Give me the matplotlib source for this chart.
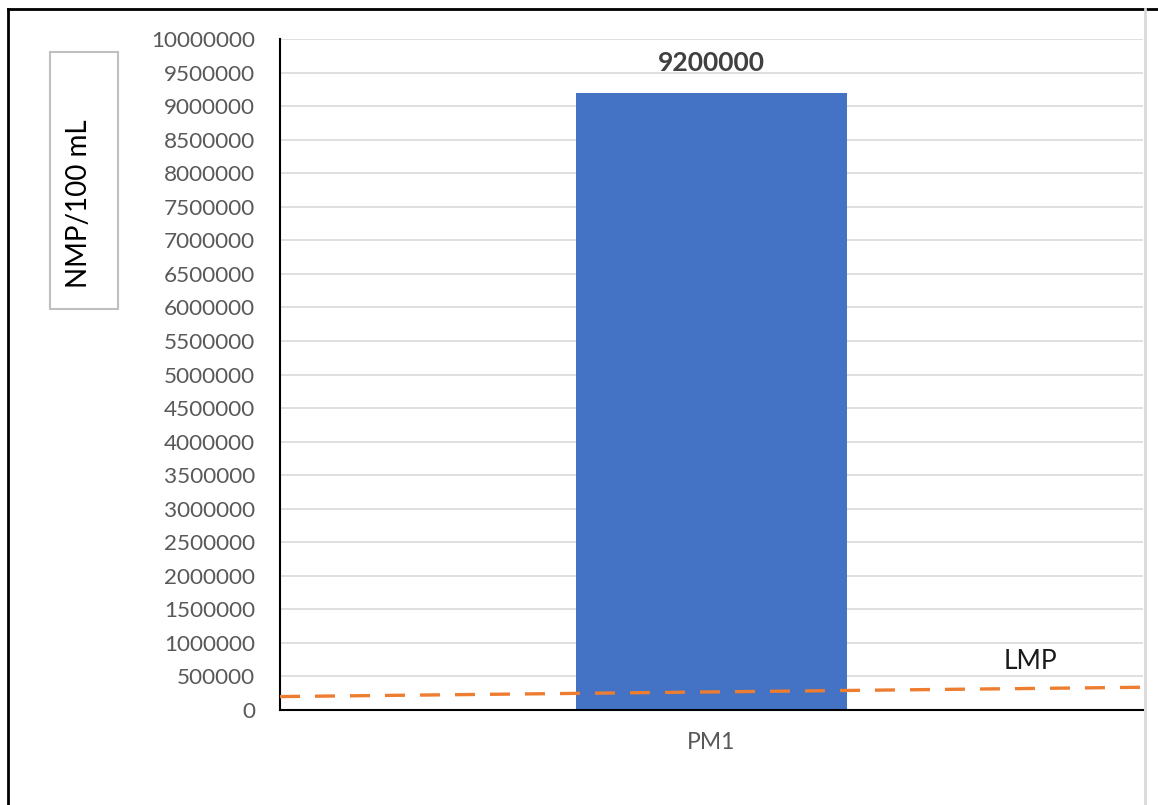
import matplotlib
matplotlib.use("Agg")
import matplotlib.pyplot as plt
from matplotlib.patches import Rectangle
from matplotlib.lines import Line2D
import numpy as np

plt.rcParams['font.family'] = ['Lato', 'DejaVu Sans']

categories = ["PM1"]
values = [9200000]
lmp_x = [-0.5, 0.508]
lmp_y = [200000, 340000]
y_ticks = list(range(0, 10000001, 500000))

fig = plt.figure(figsize=(11.58, 8.05), dpi=100)
ax = fig.add_axes([280 / 1158, 1 - 710 / 805, (1143 - 280) / 1158, (710 - 39) / 805])

x = np.arange(len(categories))
bars = ax.bar(x, values, width=0.315, color="#4472C4", zorder=2)
for xi, v in zip(x, values):
    ax.text(xi, v + 440000, f"{v}", ha="center", va="center", fontsize=19,
            fontweight="bold", color="#404040")

ax.plot(lmp_x, lmp_y, color="#ED7D31", lw=2.4, dashes=(6, 4.5),
        clip_on=False, zorder=3)
ax.text(0.369, 730000, "LMP", fontsize=19, color="#1a1a1a", ha="center", va="center")

ax.set_xlim(-0.5, 0.5)
ax.set_ylim(0, 10000000)
ax.set_yticks(y_ticks)
ax.set_yticklabels([str(t) for t in y_ticks], fontsize=16.2, color="#595959")
ax.set_xticks(x)
ax.set_xticklabels(categories, fontsize=16.5, color="#595959")
ax.tick_params(axis="both", length=0)
ax.tick_params(axis="y", pad=18)
ax.tick_params(axis="x", pad=16)
ax.grid(axis="y", color="#d9d9d9", lw=1.2, zorder=0)
ax.set_axisbelow(True)
for s in ["top", "right"]:
    ax.spines[s].set_visible(False)
ax.spines["left"].set_color("black")
ax.spines["bottom"].set_color("black")
ax.spines["left"].set_linewidth(1.5)
ax.spines["bottom"].set_linewidth(1.5)

# y-axis title in a framed box
fig.patches.append(Rectangle((50 / 1158, 1 - 309 / 805), 68 / 1158, 257 / 805,
                             transform=fig.transFigure, fill=False,
                             edgecolor="#bfbfbf", lw=1.5))
fig.text(79 / 1158, 1 - 204 / 805, "NMP/100 mL", rotation=90, fontsize=20,
         ha="center", va="center", color="black")

# outer frame lines
fig.lines.append(Line2D([8 / 1158, 1], [1 - 9 / 805, 1 - 9 / 805],
                        transform=fig.transFigure, color="black", lw=2))
fig.lines.append(Line2D([8 / 1158, 8 / 1158], [0, 1 - 9 / 805],
                        transform=fig.transFigure, color="black", lw=2))
fig.lines.append(Line2D([1145 / 1158, 1145 / 1158], [0, 1 - 9 / 805],
                        transform=fig.transFigure, color="#d9d9d9", lw=2))

fig.savefig("out.png", dpi=100)
